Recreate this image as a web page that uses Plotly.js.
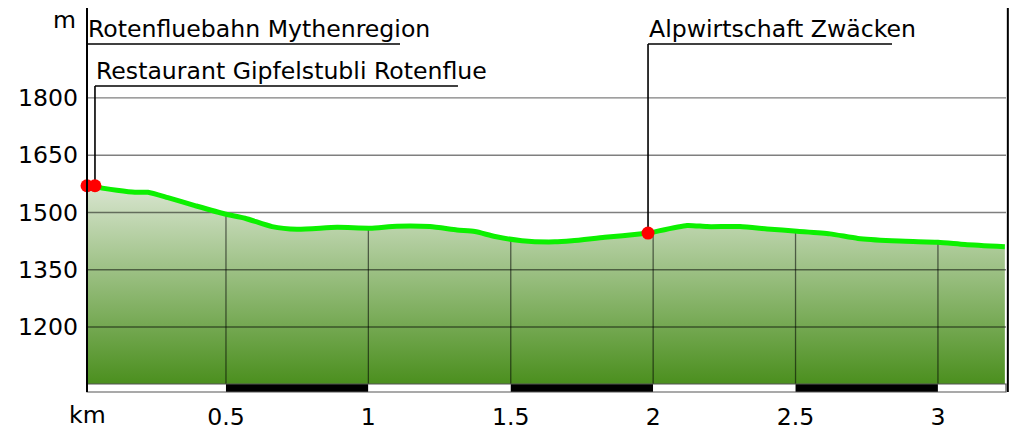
<!DOCTYPE html>
<html>
<head>
<meta charset="utf-8">
<script src="https://cdn.plot.ly/plotly-3.0.1.min.js"></script>
<style>
html,body{margin:0;padding:0;background:#fff;}
#chart{width:1012px;height:430px;}
</style>
</head>
<body>
<div id="chart"></div>
<script>
// ---- data ----
const profileKm = [0.012,0.040,0.058,0.180,0.226,0.296,0.391,0.496,0.567,0.662,0.749,0.890,1.006,1.100,1.216,1.311,1.374,1.445,1.539,1.655,1.715,1.830,1.960,1.982,2.119,2.189,2.305,2.400,2.505,2.621,2.719,2.838,3.000,3.095,3.235];
const profileElev = [1570,1570,1565,1553,1553,1539,1518,1496,1485,1463,1456,1461,1459,1464,1463,1454,1450,1437,1426,1423,1426,1435,1444,1446,1466,1463,1463,1457,1451,1444,1432,1426,1422,1416,1410];

const stopNames = ["Rotenfluebahn Mythenregion", "Restaurant Gipfelstubli Rotenflue", "Alpwirtschaft Zwäcken"];
const stopKm = [0.012, 0.040, 1.982];
const stopElev = [1570, 1570, 1446];

const xTickVals = [0.5, 1, 1.5, 2, 2.5, 3];
const xTickText = ["0.5", "1", "1.5", "2", "2.5", "3"];
const yTickVals = [1200, 1350, 1500, 1650, 1800];
const yTickText = ["1200", "1350", "1500", "1650", "1800"];

// ---- layout parameters ----
const FONT = "DejaVu Sans, Verdana, sans-serif";
const FS = 23.6;
const xRange = [0.012, 3.239];
const yRange = [1029.7, 2035.7];
const baseElev = 1050.7;
const stopRowPaper = [0.90625, 0.796875, 0.90625];
const stopUnderlinePx = [313, 363, 244];

function interp(x) {
  for (let i = 0; i < profileKm.length - 1; i++) {
    if (x >= profileKm[i] && x <= profileKm[i+1]) {
      const t = (x - profileKm[i]) / (profileKm[i+1] - profileKm[i]);
      return profileElev[i] + t * (profileElev[i+1] - profileElev[i]);
    }
  }
  return profileElev[profileElev.length-1];
}
function paperToY(f) { return yRange[0] + f * (yRange[1] - yRange[0]); }

const traces = [];
// filled area
traces.push({
  x: [profileKm[0]].concat(profileKm, [profileKm[profileKm.length-1]]),
  y: [baseElev].concat(profileElev, [baseElev]),
  mode: 'none', fill: 'toself',
  fillgradient: {type: 'vertical', start: baseElev, stop: 1610,
    colorscale: [[0, '#4b8f1e'], [1, '#e4ecde']]},
  hoverinfo: 'skip', showlegend: false
});
// horizontal grid lines
const gx = [], gy = [];
yTickVals.forEach(v => { gx.push(xRange[0], xRange[1], null); gy.push(v, v, null); });
traces.push({x: gx, y: gy, mode: 'lines', line: {color: 'rgba(0,0,0,0.5)', width: 1.3},
  hoverinfo: 'skip', showlegend: false});
// vertical grid lines under the profile
const vx = [], vy = [];
xTickVals.forEach(v => { vx.push(v, v, null); vy.push(baseElev, interp(v), null); });
traces.push({x: vx, y: vy, mode: 'lines', line: {color: 'rgba(0,0,0,0.55)', width: 1.3},
  hoverinfo: 'skip', showlegend: false});
// profile line
traces.push({x: profileKm, y: profileElev, mode: 'lines',
  line: {color: '#0cf000', width: 5, shape: 'spline', smoothing: 0.6},
  hoverinfo: 'skip', showlegend: false});
// leader lines
const lx = [], ly = [];
stopKm.forEach((k, i) => { lx.push(k, k, null); ly.push(stopElev[i], paperToY(stopRowPaper[i]), null); });
traces.push({x: lx, y: ly, mode: 'lines', line: {color: '#000', width: 1.6},
  hoverinfo: 'skip', showlegend: false, cliponaxis: false});
// stop markers
traces.push({x: stopKm, y: stopElev, mode: 'markers', cliponaxis: false,
  marker: {color: '#ff0000', size: 13}, hoverinfo: 'skip', showlegend: false});

const shapes = [];
const annotations = [];
// underlines + labels
stopKm.forEach((k, i) => {
  shapes.push({type: 'line', xref: 'x', xsizemode: 'pixel', xanchor: k, x0: 0, x1: stopUnderlinePx[i],
    yref: 'paper', y0: stopRowPaper[i], y1: stopRowPaper[i], line: {color: '#000', width: 1.6}, layer: 'above'});
  annotations.push({xref: 'x', yref: 'paper', x: k, y: stopRowPaper[i], xanchor: 'left', yanchor: 'bottom',
    xshift: -1, yshift: -1, text: stopNames[i], showarrow: false, font: {family: FONT, size: FS, color: '#000'}});
});
// km scale strip
const stripTop = (baseElev - yRange[0]) / (yRange[1] - yRange[0]);
let edges = [xRange[0]].concat(xTickVals, [xRange[1]]);
for (let i = 0; i < edges.length - 1; i++) {
  shapes.push({type: 'rect', xref: 'x', yref: 'paper', x0: edges[i], x1: edges[i+1], y0: 0, y1: stripTop,
    fillcolor: (i % 2 === 1) ? '#000' : '#fff', line: {width: 0}, layer: 'above'});
}
shapes.push({type: 'rect', xref: 'paper', yref: 'paper', x0: 0, x1: 1, y0: 0, y1: stripTop,
  fillcolor: 'rgba(0,0,0,0)', line: {color: '#555', width: 1.2}, layer: 'above'});
// left and right axis lines
shapes.push({type: 'line', xref: 'paper', yref: 'paper', x0: 0, x1: 0, y0: 0, y1: 1, line: {color: '#000', width: 2}, layer: 'above'});
shapes.push({type: 'line', xref: 'paper', yref: 'paper', x0: 1.002, x1: 1.002, y0: 0, y1: 1, line: {color: '#000', width: 2}, layer: 'above'});

annotations.push({xref: 'paper', yref: 'paper', x: -0.024, y: 0.969, xanchor: 'center', yanchor: 'middle',
  text: 'm', showarrow: false, font: {family: FONT, size: FS, color: '#000'}});
annotations.push({xref: 'paper', yref: 'paper', x: 0, y: -0.06, xanchor: 'center', yanchor: 'middle',
  text: 'km', showarrow: false, font: {family: FONT, size: FS, color: '#000'}});

const layout = {
  width: 1012, height: 430,
  margin: {l: 87, r: 6, t: 8, b: 38, pad: 0},
  paper_bgcolor: '#fff', plot_bgcolor: '#fff',
  showlegend: false,
  font: {family: FONT, size: FS, color: '#000'},
  xaxis: {range: xRange, tickvals: xTickVals, ticktext: xTickText, showgrid: false, zeroline: false,
    showline: false, ticks: '', ticklabelstandoff: 8, fixedrange: true},
  yaxis: {range: yRange, tickvals: yTickVals, ticktext: yTickText, showgrid: false, zeroline: false,
    showline: false, ticks: '', ticklabelstandoff: 8, fixedrange: true},
  shapes: shapes,
  annotations: annotations
};
Plotly.newPlot('chart', traces, layout, {staticPlot: true, displayModeBar: false});
</script>
</body>
</html>
